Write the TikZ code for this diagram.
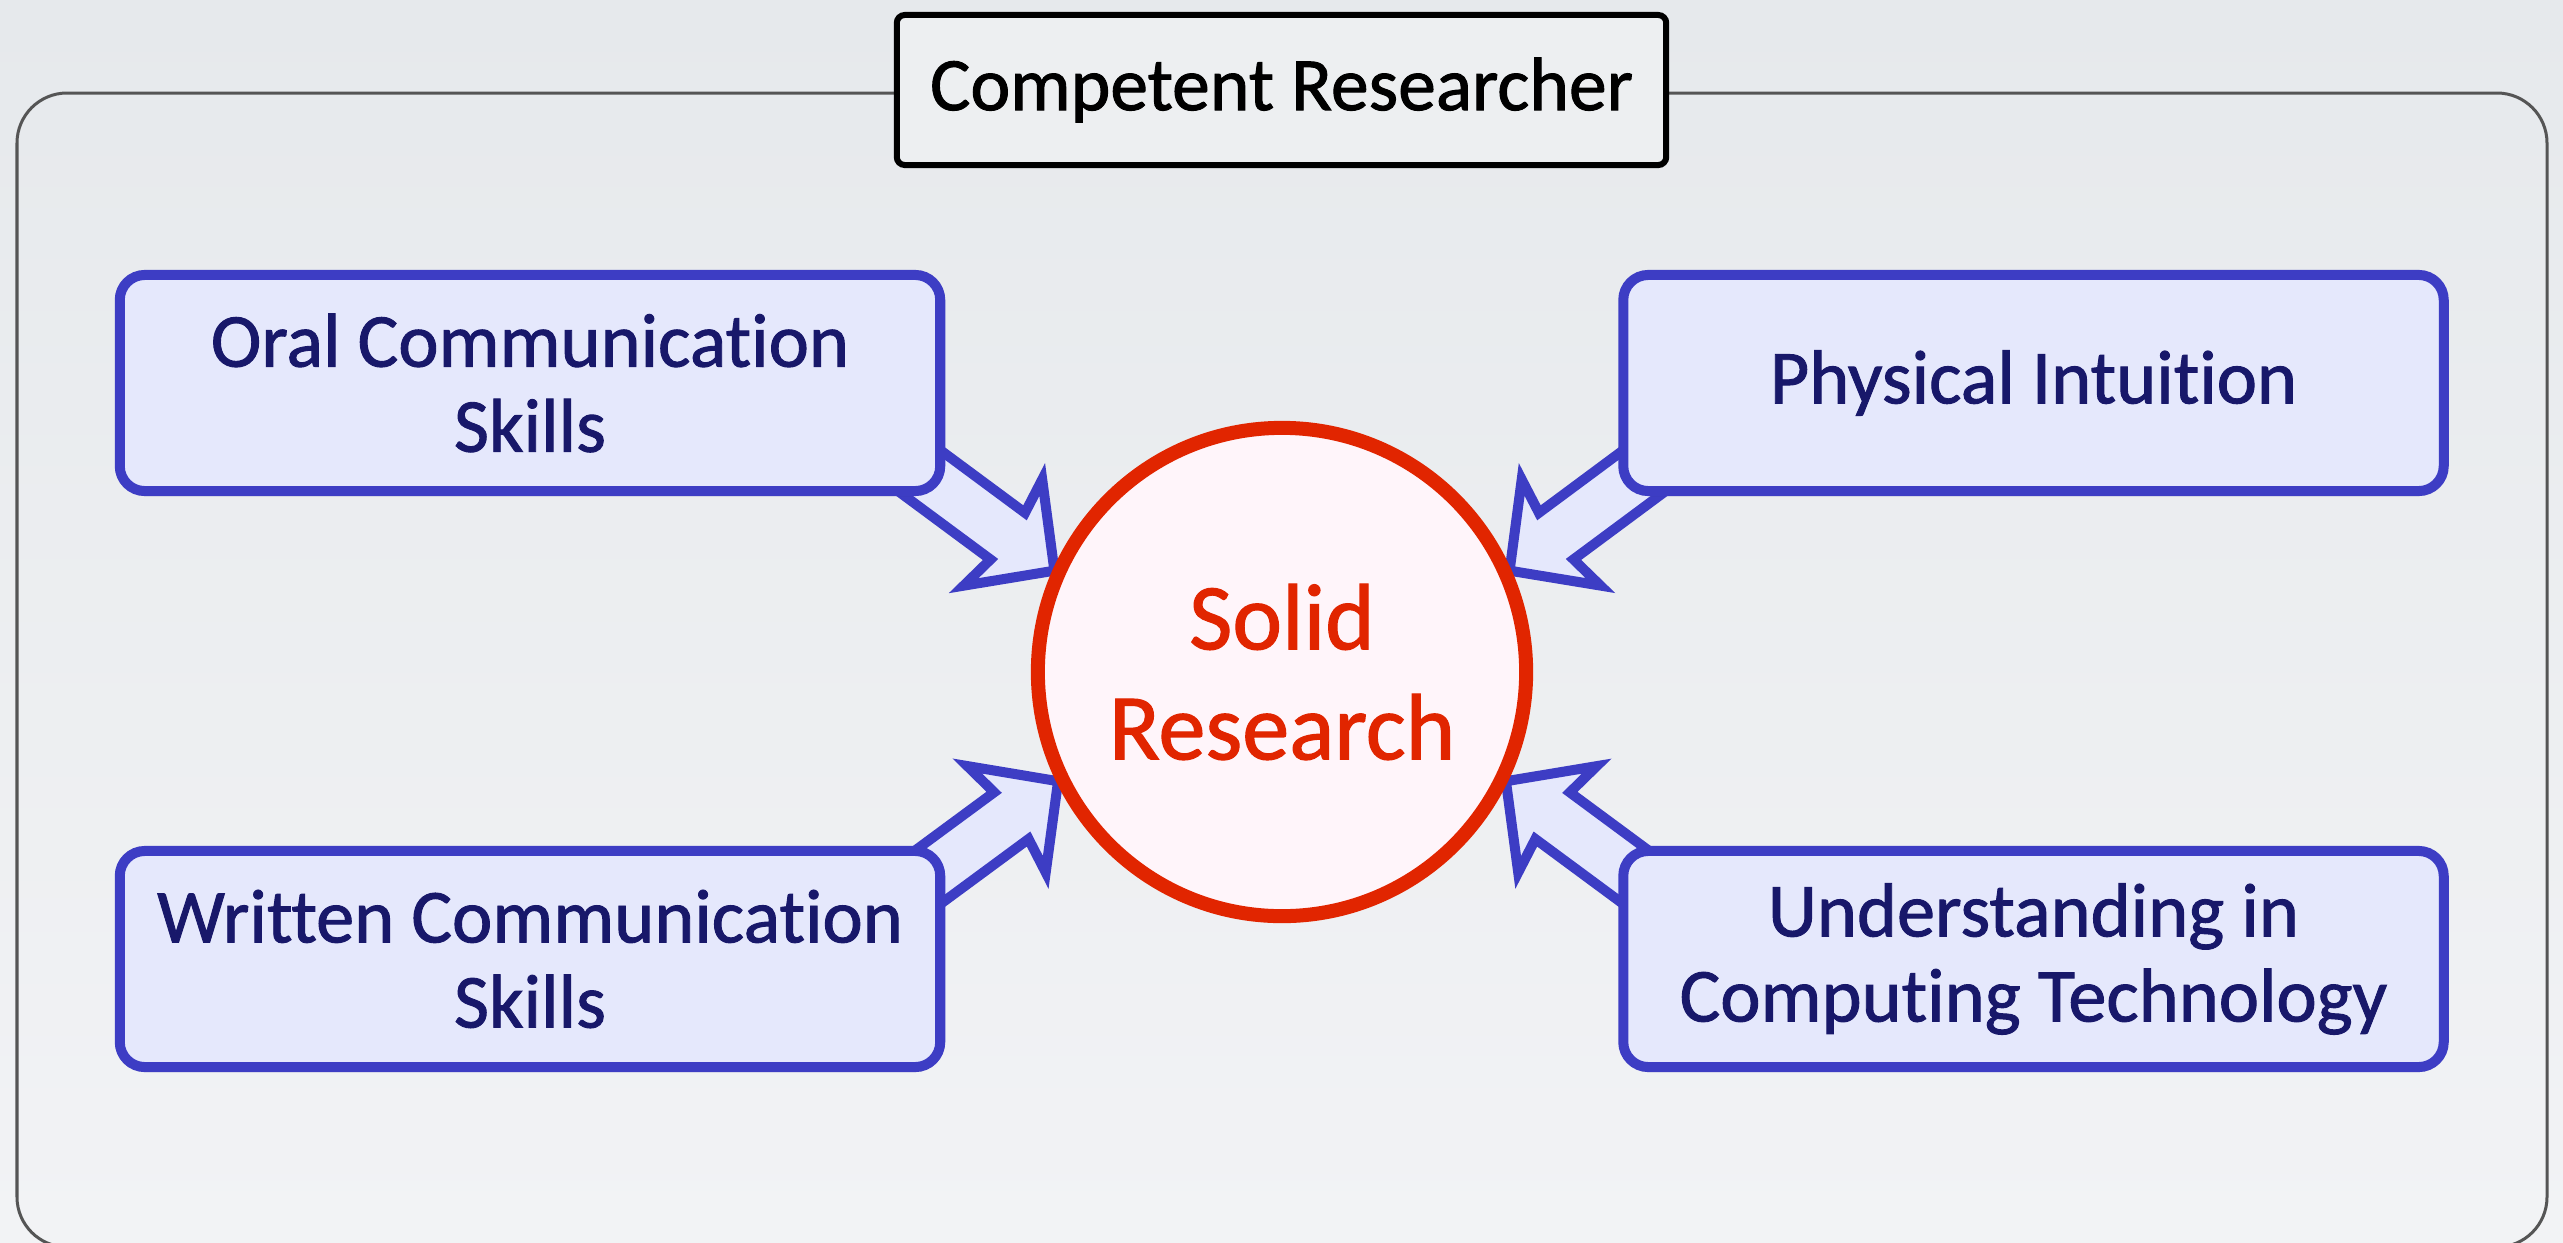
\documentclass[tikz,border=0pt]{standalone}
\usepackage{fontspec}
\setmainfont{Carlito}[Ligatures={NoCommon}, FakeBold=1.2]
\usetikzlibrary{calc,shadows}
\definecolor{bgtop}{HTML}{E6E9EC}
\definecolor{bgbot}{HTML}{F2F3F5}
\definecolor{framegray}{HTML}{555555}
\definecolor{boxblue}{HTML}{3D3DC4}
\definecolor{boxfill}{HTML}{E5E8FC}
\definecolor{navytext}{HTML}{18186A}
\definecolor{redc}{HTML}{E12500}
\definecolor{pinkfill}{HTML}{FFF5FA}
\definecolor{titlefill}{HTML}{EDEFF1}
\pgfdeclarelayer{bglayer}
\pgfdeclarelayer{arrlayer}
\pgfsetlayers{bglayer,arrlayer,main}
\newcommand\fatarrow[2]{%
  \coordinate (fah) at ($(#2)!0.64cm!(#1)$);
  \coordinate (fan) at ($(#2)!0.58cm!(#1)$);
  \draw[fatarr] ($(#1)!0.29cm!90:(#2)$) -- ($(fan)!0.29cm!90:(#2)$)
    -- ($(fah)!0.66cm!90:(#2)$) -- (#2) -- ($(fah)!0.66cm!-90:(#2)$)
    -- ($(fan)!0.29cm!-90:(#2)$) -- ($(#1)!0.29cm!-90:(#2)$) -- cycle;}
\begin{document}
\begin{tikzpicture}[x=0.01cm, y=-0.01cm,
  skill/.style={draw=boxblue, fill=boxfill, line width=0.10cm, rounded corners=0.25cm,
    minimum width=8.2cm, minimum height=2.16cm, inner sep=0pt, align=center,
    text=navytext, font=\fontsize{21.7}{24.2}\selectfont,
    drop shadow={shadow xshift=0pt, shadow yshift=-0.05cm, opacity=0.12, fill=black}},
  core/.style={circle, draw=redc, fill=pinkfill, line width=0.14cm, minimum size=4.88cm,
    inner sep=0pt, outer sep=0.05cm, align=center, text=redc,
    font=\fontsize{26.8}{31.3}\selectfont,
    drop shadow={shadow xshift=0pt, shadow yshift=-0.05cm, opacity=0.10, fill=black}},
  titlebox/.style={draw=black, fill=titlefill, line width=0.06cm, rounded corners=0.08cm,
    minimum width=7.69cm, minimum height=1.5cm, inner sep=0pt,
    font=\fontsize{21.5}{24}\selectfont},
  fatarr/.style={draw=boxblue, fill=boxfill, line width=0.10cm, line join=miter},
  framebox/.style={draw=framegray, line width=0.03cm, rounded corners=0.5cm}
]
\useasboundingbox (0,0) rectangle (2563,1242);
\clip (0,0) rectangle (2563,1242);
\begin{pgfonlayer}{bglayer}
  \shade[top color=bgtop, bottom color=bgbot] (0,0) rectangle (2563,1242);
  \draw[framebox] (17,93) rectangle (2547,1247);
\end{pgfonlayer}

\node[titlebox] (title) at (1281.5,90) {Competent Researcher};

\node[skill] (oral) at (530,383) {Oral Communication\\Skills};
\node[skill] (phys) at (2033.5,383) {Physical Intuition};
\node[skill] (writ) at (530,959) {Written Communication\\Skills};
\node[skill] (comp) at (2033.5,959) {Understanding in\\Computing Technology};

\node[core] (sr) at (1282,672) {Solid\\Research};

\coordinate (aTL) at ($(oral.center)+(310,29)$);
\coordinate (aTR) at ($(phys.center)+(-310,29)$);
\coordinate (aBL) at ($(writ.center)+(314,-20)$);
\coordinate (aBR) at ($(comp.center)+(-314,-20)$);

\begin{pgfonlayer}{arrlayer}
  \fatarrow{aTL}{sr.156}
  \fatarrow{aTR}{sr.24}
  \fatarrow{aBL}{sr.206}
  \fatarrow{aBR}{sr.-26}
\end{pgfonlayer}
\end{tikzpicture}
\end{document}
